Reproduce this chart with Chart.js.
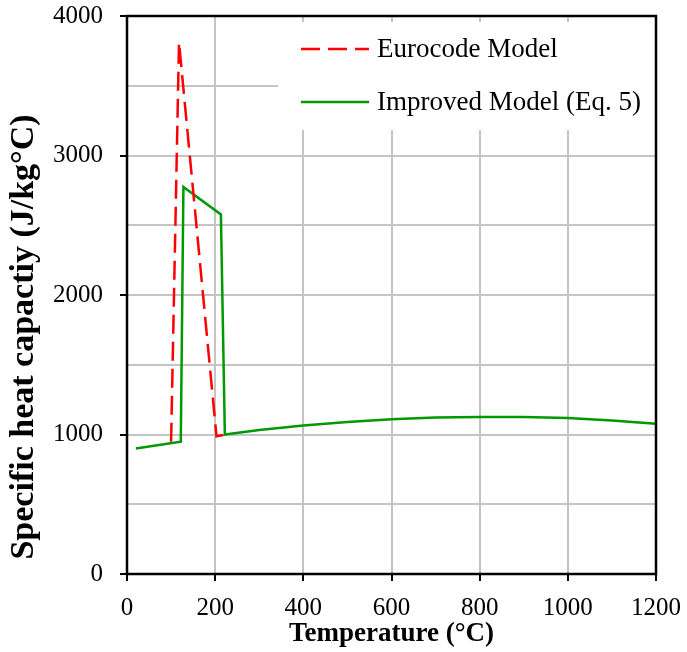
<!DOCTYPE html>
<html><head><meta charset="utf-8">
<script src="https://cdn.jsdelivr.net/npm/chart.js@4.4.1/dist/chart.umd.min.js"></script>
<style>html,body{margin:0;padding:0;background:#fff}#wrap{width:687px;height:652px;position:relative}canvas{display:block}</style>
</head><body><div id="wrap"><canvas id="c" width="687" height="652"></canvas></div>
<script>
// ---- data ----
const eurocodeTemp = [100, 118, 203, 222];
const eurocodeCp   = [948, 3810, 987, 998];
const improvedTemp = [20, 122, 128, 213, 222, 300, 400, 500, 600, 700, 800, 900, 1000, 1100, 1200];
const improvedCp   = [900, 948, 2775, 2578, 1000, 1032, 1064, 1090, 1110, 1121, 1126, 1125, 1118, 1101, 1077];
const seriesNames  = ['Eurocode Model', 'Improved Model (Eq. 5)'];
const xTickValues  = [0, 200, 400, 600, 800, 1000, 1200];
const yTickValues  = [0, 1000, 2000, 3000, 4000];
const xTitle = 'Temperature (°C)';
const yTitle = 'Specific heat capactiy (J/kg°C)';

const RED = '#ff0000', GREEN = '#009a00';
const toPts = (xs, ys) => xs.map((x, i) => ({x, y: ys[i]}));

const framePlugin = {
  id: 'frame',
  beforeDatasetsDraw(chart) {
    const {ctx, chartArea: a} = chart;
    // legend box (covers the grid)
    const lx = a.left + 151, ly = a.top + 6;
    ctx.save();
    ctx.fillStyle = '#fff';
    ctx.fillRect(lx, ly, a.right - lx, 108);
    const items = [
      {name: seriesNames[0], color: RED, dash: [19, 8], dy: 33},
      {name: seriesNames[1], color: GREEN, dash: [], dy: 86}
    ];
    ctx.font = '27px "Liberation Serif"';
    ctx.textBaseline = 'middle';
    ctx.textAlign = 'left';
    items.forEach(it => {
      const y = a.top + it.dy;
      ctx.beginPath();
      ctx.setLineDash(it.dash);
      ctx.strokeStyle = it.color;
      ctx.lineWidth = 2.5;
      ctx.moveTo(a.left + 174, y);
      ctx.lineTo(a.left + 242, y);
      ctx.stroke();
      ctx.setLineDash([]);
      ctx.fillStyle = '#000';
      ctx.fillText(it.name, a.left + 250, y + 1);
    });
    ctx.restore();
  },
  afterDraw(chart) {
    const {ctx, chartArea: a} = chart;
    ctx.save();
    ctx.strokeStyle = '#000';
    ctx.lineWidth = 2.5;
    ctx.strokeRect(a.left, a.top, a.right - a.left, a.bottom - a.top);
    // y axis title
    ctx.translate(24, a.bottom - 237);
    ctx.rotate(-Math.PI / 2);
    ctx.font = 'bold 34px "Liberation Serif"';
    ctx.textAlign = 'center';
    ctx.textBaseline = 'middle';
    ctx.fillStyle = '#000';
    ctx.fillText(yTitle, 0, 0);
    ctx.restore();
  }
};

const tickFont = {family: '"Liberation Serif"', size: 25};

new Chart(document.getElementById('c'), {
  type: 'line',
  data: {
    datasets: [
      {label: seriesNames[0], data: toPts(eurocodeTemp, eurocodeCp), borderColor: RED, borderWidth: 2.5,
       borderDash: [19, 8], pointRadius: 0, tension: 0, fill: false},
      {label: seriesNames[1], data: toPts(improvedTemp, improvedCp), borderColor: GREEN, borderWidth: 2.5,
       pointRadius: 0, tension: 0, fill: false}
    ]
  },
  options: {
    responsive: false,
    devicePixelRatio: 1,
    animation: false,
    layout: {padding: {left: 0, right: 31, top: 16, bottom: 0}},
    plugins: {legend: {display: false}, tooltip: {enabled: false}},
    scales: {
      x: {
        type: 'linear', min: 0, max: 1200,
        afterBuildTicks: s => { s.ticks = xTickValues.map(v => ({value: v})); },
        ticks: {font: tickFont, color: '#000', padding: 12, maxRotation: 0, autoSkip: false,
                callback: v => String(v)},
        grid: {color: '#c4c4c4', lineWidth: 2, tickLength: 7, tickWidth: 2, tickColor: '#000'},
        border: {display: false},
        title: {display: true, text: xTitle, color: '#000',
                font: {family: '"Liberation Serif"', size: 27, weight: 'bold'}, padding: {top: 0, bottom: 2}},
        afterFit: s => { s.height = 78; s.paddingLeft = 0; s.paddingRight = 0; }
      },
      y: {
        min: 0, max: 4000,
        ticks: {stepSize: 500, font: tickFont, color: '#000', padding: 17,
                callback: v => yTickValues.includes(v) ? String(v) : ''},
        grid: {color: '#c4c4c4', lineWidth: 2, tickLength: 7, tickWidth: 2,
               tickColor: c => (c.tick && yTickValues.includes(c.tick.value)) ? '#000' : 'rgba(0,0,0,0)'},
        border: {display: false},
        afterFit: s => { s.width = 127; s.paddingTop = 0; s.paddingBottom = 0; }
      }
    }
  },
  plugins: [framePlugin]
});
</script>
</body></html>
